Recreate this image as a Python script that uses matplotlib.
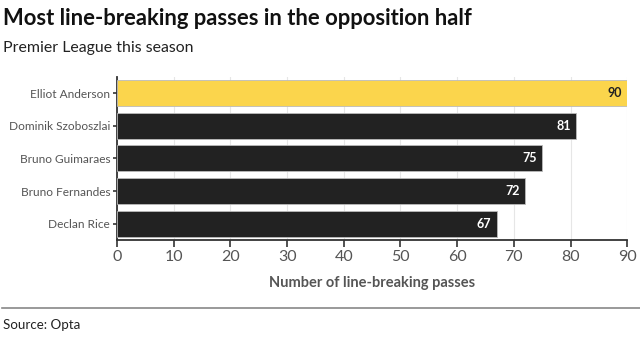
import matplotlib
matplotlib.use("Agg")
import matplotlib.pyplot as plt

# data
players = ["Elliot Anderson", "Dominik Szoboszlai", "Bruno Guimaraes",
           "Bruno Fernandes", "Declan Rice"]
passes = [90, 81, 75, 72, 67]
highlight = "Elliot Anderson"

YELLOW = "#fbd54c"
DARK = "#222222"
GREY = "#555555"

plt.rcParams["font.family"] = ["Lato", "DejaVu Sans"]

fig = plt.figure(figsize=(6.4, 3.4), dpi=100)
ax = fig.add_axes([0.183, 0.294, 0.797, 0.48])

colors = [YELLOW if p == highlight else DARK for p in players]
ypos = list(range(len(players)))
ax.barh(ypos, passes, height=0.8, color=colors, edgecolor="#bbbbbb",
        linewidth=0.6, zorder=3)

for y, v, p in zip(ypos, passes, players):
    txt_col = DARK if p == highlight else "white"
    ax.text(v - 1.0, y, str(v), ha="right", va="center", fontsize=9,
            fontweight="bold", color=txt_col, zorder=4)

ax.set_yticks(ypos)
ax.set_yticklabels(players, fontsize=8.6, color=GREY)
ax.set_ylim(len(players) - 0.5, -0.5)
ax.set_xlim(0, 90)
ax.set_xticks(range(0, 91, 10))
ax.tick_params(axis="x", labelsize=11.5, colors=GREY, length=5, width=1.2,
               pad=2)
ax.tick_params(axis="x", color="#333333")
ax.tick_params(axis="y", length=3, width=1.2, color="#333333", pad=2)
ax.grid(axis="x", color="#e6e6e6", linewidth=0.8, zorder=0)
ax.set_axisbelow(True)

for s in ["top", "right"]:
    ax.spines[s].set_visible(False)
for s in ["left", "bottom"]:
    ax.spines[s].set_color("#333333")
    ax.spines[s].set_linewidth(1.3)

ax.set_xlabel("Number of line-breaking passes", fontsize=10.5,
              fontweight="bold", color=GREY, labelpad=9)

fig.text(0.005, 0.945, "Most line-breaking passes in the opposition half",
         fontsize=15.8, fontweight="bold", color="#111111", va="center")
fig.text(0.005, 0.86, "Premier League this season", fontsize=11.4,
         color="#222222", va="center")

fig.add_artist(plt.Line2D([0.003, 1.0], [0.094, 0.094], color="#888888",
                          linewidth=1.2, transform=fig.transFigure))
fig.text(0.005, 0.045, "Source: Opta", fontsize=9.6, color="#222222",
         va="center")

fig.savefig("out.png", dpi=100)
